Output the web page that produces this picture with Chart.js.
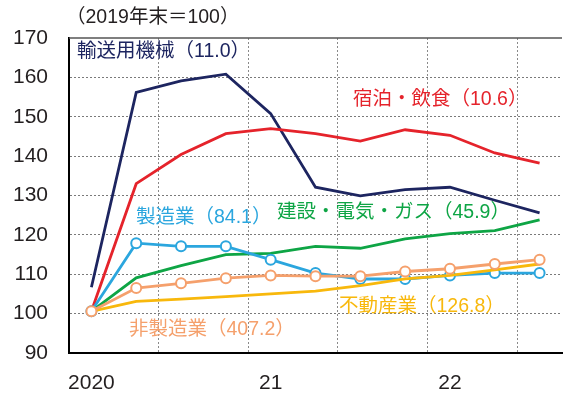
<!DOCTYPE html>
<html>
<head>
<meta charset="utf-8">
<script src="https://cdn.jsdelivr.net/npm/chart.js@4.4.1/dist/chart.umd.min.js"></script>
<style>
    html, body { margin: 0; padding: 0; background: #fff; }
    #chart { display: block; }
</style>
</head>
<body>
<canvas id="chart" width="569" height="401"></canvas>
<script>
// Data (2019年末 = 100), one point per quarter
const quarterLabels = ["2020", "", "", "", "21", "", "", "", "22", "", ""];
const yTicks = [90, 100, 110, 120, 130, 140, 150, 160, 170];

const transport = [106.7, 156.2, 159.1, 160.8, 150.8, 132.1, 129.9, 131.5, 132.1, 128.8, 125.6];
const lodging = [100.6, 133.0, 140.4, 145.7, 147.0, 145.7, 143.8, 146.7, 145.3, 140.8, 138.2];
const manufacturing = [100.6, 117.9, 117.1, 117.1, 113.7, 110.3, 108.8, 108.8, 109.7, 110.3, 110.3];
const construction = [100.6, 109.1, 112.2, 115.0, 115.3, 117.1, 116.6, 119.0, 120.3, 121.1, 123.8];
const nonManufacturing = [100.6, 106.5, 107.7, 109.0, 109.7, 109.5, 109.5, 110.7, 111.4, 112.6, 113.7];
const realEstate = [100.6, 103.1, 103.7, 104.3, 105.0, 105.7, 107.1, 108.8, 109.7, 111.1, 112.6];

const colors = {
    navy: "#1d2560",
    red: "#e5232b",
    blue: "#2ba6de",
    green: "#0ea545",
    orange: "#f5a06c",
    yellow: "#f8b80c",
};

const FONT = '"Liberation Sans", "Noto Sans CJK JP", sans-serif';

// Series labels drawn inside the plot
const seriesLabels = [
    { text: "輸送用機械（11.0）", color: colors.navy, x: 77, y: 52 },
    { text: "宿泊・飲食（10.6）", color: colors.red, x: 353, y: 100 },
    { text: "製造業（84.1）", color: colors.blue, x: 136, y: 218 },
    { text: "建設・電気・ガス（45.9）", color: colors.green, x: 277, y: 213 },
    { text: "不動産業（126.8）", color: colors.yellow, x: 339, y: 307 },
    { text: "非製造業（407.2）", color: colors.orange, x: 129, y: 330 },
];

const labelPlugin = {
    id: "labels",
    afterDraw(chart) {
        const ctx = chart.ctx;
        const area = chart.chartArea;
        ctx.save();
        // top frame line
        ctx.strokeStyle = "#555";
        ctx.lineWidth = 1.5;
        ctx.beginPath();
        ctx.moveTo(area.left, area.top);
        ctx.lineTo(area.right, area.top);
        ctx.stroke();

        // unit note
        ctx.fillStyle = "#231f20";
        ctx.font = "19.5px " + FONT;
        ctx.textBaseline = "middle";
        ctx.textAlign = "left";
        ctx.fillText("（2019年末＝100）", 66, 18);

        ctx.font = "19.5px " + FONT;
        seriesLabels.forEach((l) => {
            ctx.fillStyle = l.color;
            ctx.fillText(l.text, l.x, l.y);
        });
        ctx.restore();
    },
};

const lineSet = (label, data, color, withPoints, order) => ({
    label: label,
    data: data,
    borderColor: color,
    backgroundColor: "#fff",
    borderWidth: 2.8,
    tension: 0,
    pointRadius: withPoints ? 5 : 0,
    pointBorderWidth: 2,
    pointBackgroundColor: "#fff",
    pointBorderColor: color,
    order: order,
});

const ctx = document.getElementById("chart").getContext("2d");
const chart = new Chart(ctx, {
    type: "line",
    data: {
        labels: quarterLabels,
        datasets: [
            lineSet("輸送用機械", transport, colors.navy, false, 6),
            lineSet("宿泊・飲食", lodging, colors.red, false, 5),
            lineSet("建設・電気・ガス", construction, colors.green, false, 4),
            lineSet("製造業", manufacturing, colors.blue, true, 3),
            lineSet("不動産業", realEstate, colors.yellow, false, 2),
            lineSet("非製造業", nonManufacturing, colors.orange, true, 1),
        ],
    },
    options: {
        responsive: false,
        animation: false,
        layout: { padding: { top: 38, left: 0, right: 0, bottom: 0 } },
        plugins: {
            legend: { display: false },
            tooltip: { enabled: false },
        },
        scales: {
            x: {
                type: "category",
                offset: true,
                afterFit: (scale) => { scale.height = 48; },
                grid: {
                    offset: true,
                    drawTicks: false,
                    color: (c) => (c.index >= 2 && c.index <= 10 && c.index % 2 === 0 ? "#8a8a8a" : "rgba(0,0,0,0)"),
                    lineWidth: 1,
                },
                border: { display: true, color: "#000", width: 2, dash: [2, 2] },
                ticks: {
                    autoSkip: false,
                    maxRotation: 0,
                    padding: 18,
                    color: "#231f20",
                    font: { size: 21, family: FONT },
                },
            },
            y: {
                min: 90,
                max: 170,
                afterFit: (scale) => { scale.width = 69; },
                afterBuildTicks: (scale) => {
                    scale.ticks = yTicks.map((v) => ({ value: v }));
                },
                grid: {
                    drawTicks: false,
                    color: (c) => (c.tick && (c.tick.value === 90 || c.tick.value === 170) ? "rgba(0,0,0,0)" : "#7a7a7a"),
                    lineWidth: 1,
                },
                border: { display: true, color: "#000", width: 2, dash: [2, 2] },
                ticks: {
                    padding: 21,
                    color: "#231f20",
                    font: { size: 21, family: FONT },
                },
            },
        },
    },
    plugins: [labelPlugin],
});
</script>
</body>
</html>
